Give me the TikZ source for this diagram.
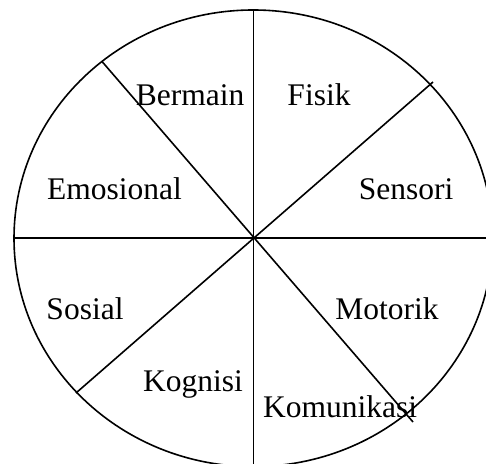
\documentclass[tikz,border=0pt]{standalone}
\usepackage{fontspec}
\setmainfont{Liberation Serif}
\tikzset{
  rim/.style={line width=1.6pt,draw=black},
  spoke/.style={line width=1.6pt,draw=black},
  sector/.style={font=\fontsize{31.5}{36}\selectfont,text=black,inner sep=0pt,anchor=base}
}

\begin{document}
\begin{tikzpicture}[x=1pt,y=1pt]
  \useasboundingbox (0,0) rectangle (486,463);
  \coordinate (c) at (253.3,224.7);
  \draw[rim] (c) ellipse [x radius=239.3,y radius=228.3];
  % spokes
  \coordinate (top) at (253.3,453);
  \coordinate (bot) at (253.3,-4);
  \coordinate (left) at (14,224.7);
  \coordinate (right) at (493,224.7);
  \coordinate (ul) at (102,401.5);
  \coordinate (lr) at (413,41);
  \coordinate (ur) at (433,381);
  \coordinate (ll) at (76,70);
  \draw[spoke] (top)--(bot);
  \draw[spoke] (left)--(right);
  \draw[spoke] (ul)--(lr);
  \draw[spoke] (ur)--(ll);
  % labels
  \node[sector] (bermain) at (190,357) {Bermain};
  \node[sector] (fisik) at (319,357) {Fisik};
  \node[sector] (emosional) at (114.5,263) {Emosional};
  \node[sector] (sensori) at (406,263) {Sensori};
  \node[sector] (sosial) at (85,144) {Sosial};
  \node[sector] (motorik) at (387,144) {Motorik};
  \node[sector] (kognisi) at (193,72) {Kognisi};
  \node[sector] (komunikasi) at (340,46) {Komunikasi};
\end{tikzpicture}
\end{document}
